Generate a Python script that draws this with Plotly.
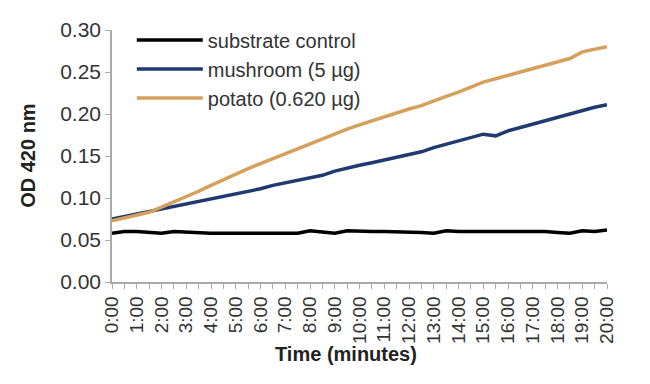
import plotly.graph_objects as go

minutes = [i * 0.5 for i in range(41)]
tick_minutes = list(range(21))
tick_labels = [f"{m}:00" for m in tick_minutes]

substrate_control = [0.058, 0.060, 0.060, 0.059, 0.058, 0.060, 0.059, 0.058, 0.058, 0.058,
                     0.058, 0.058, 0.058, 0.059, 0.059, 0.058, 0.061, 0.059, 0.058, 0.061,
                     0.060, 0.060, 0.060, 0.060, 0.060, 0.059, 0.058, 0.061, 0.060, 0.060,
                     0.061, 0.061, 0.060, 0.060, 0.060, 0.060, 0.059, 0.058, 0.061, 0.060,
                     0.062]
mushroom = [0.075, 0.078, 0.081, 0.084, 0.087, 0.090, 0.092, 0.095, 0.098, 0.101,
            0.104, 0.107, 0.111, 0.115, 0.118, 0.121, 0.124, 0.127, 0.132, 0.136,
            0.139, 0.142, 0.145, 0.149, 0.152, 0.155, 0.160, 0.164, 0.168, 0.172,
            0.176, 0.174, 0.180, 0.184, 0.188, 0.192, 0.197, 0.201, 0.205, 0.208,
            0.211]
potato = [0.073, 0.076, 0.079, 0.083, 0.089, 0.095, 0.101, 0.108, 0.115, 0.122,
          0.129, 0.135, 0.141, 0.147, 0.153, 0.158, 0.164, 0.170, 0.176, 0.182,
          0.187, 0.192, 0.197, 0.202, 0.206, 0.210, 0.216, 0.221, 0.226, 0.232,
          0.238, 0.242, 0.246, 0.250, 0.254, 0.258, 0.262, 0.266, 0.274, 0.277,
          0.280]

series_names = ["substrate control", "mushroom (5 µg)", "potato (0.620 µg)"]
series_colors = ["#000000", "#1f3a70", "#d6a05c"]
series_values = [substrate_control, mushroom, potato]

fig = go.Figure()
for name, color, vals in zip(series_names, series_colors, series_values):
    fig.add_trace(go.Scatter(x=minutes, y=vals, mode="lines", name=name,
                             line=dict(color=color, width=3.5)))

font_family = "Liberation Sans, Arial, sans-serif"
fig.update_layout(
    width=642, height=376,
    margin=dict(l=104, r=43, t=19, b=102),
    paper_bgcolor="white", plot_bgcolor="white",
    font=dict(family=font_family, color="#333333"),
    showlegend=True,
    legend=dict(x=0.04, y=1.038, xanchor="left", yanchor="top",
                font=dict(size=20, color="#333333"),
                bgcolor="rgba(0,0,0,0)", itemwidth=66, tracegroupgap=0),
    xaxis=dict(range=[0, 20], tickmode="array", tickvals=tick_minutes, ticktext=tick_labels,
               tickangle=-90, tickfont=dict(size=19, color="#333333"),
               showline=True, linecolor="#aaaaaa", linewidth=1.5,
               ticks="outside", ticklen=5, tickcolor="#aaaaaa",
               minor=dict(dtick=0.5, ticks="outside", ticklen=5, tickcolor="#aaaaaa"),
               showgrid=False, zeroline=False, automargin=False),
    yaxis=dict(range=[0, 0.30], dtick=0.05, tickformat=".2f",
               tickfont=dict(size=21, color="#333333"),
               showline=True, linecolor="#aaaaaa", linewidth=1.5,
               ticks="outside", ticklen=5, tickcolor="#aaaaaa",
               showgrid=False, zeroline=False, automargin=False),
    annotations=[
        dict(text="<b>Time (minutes)</b>", xref="paper", yref="paper",
             x=0.473, y=-0.286, xanchor="center", yanchor="middle", showarrow=False,
             font=dict(size=20, color="#222222", family=font_family)),
        dict(text="<b>OD 420 nm</b>", xref="paper", yref="paper", textangle=-90,
             x=-0.17, y=0.5, xanchor="center", yanchor="middle", showarrow=False,
             font=dict(size=20, color="#222222", family=font_family)),
    ],
)

fig.write_html("out.html")
